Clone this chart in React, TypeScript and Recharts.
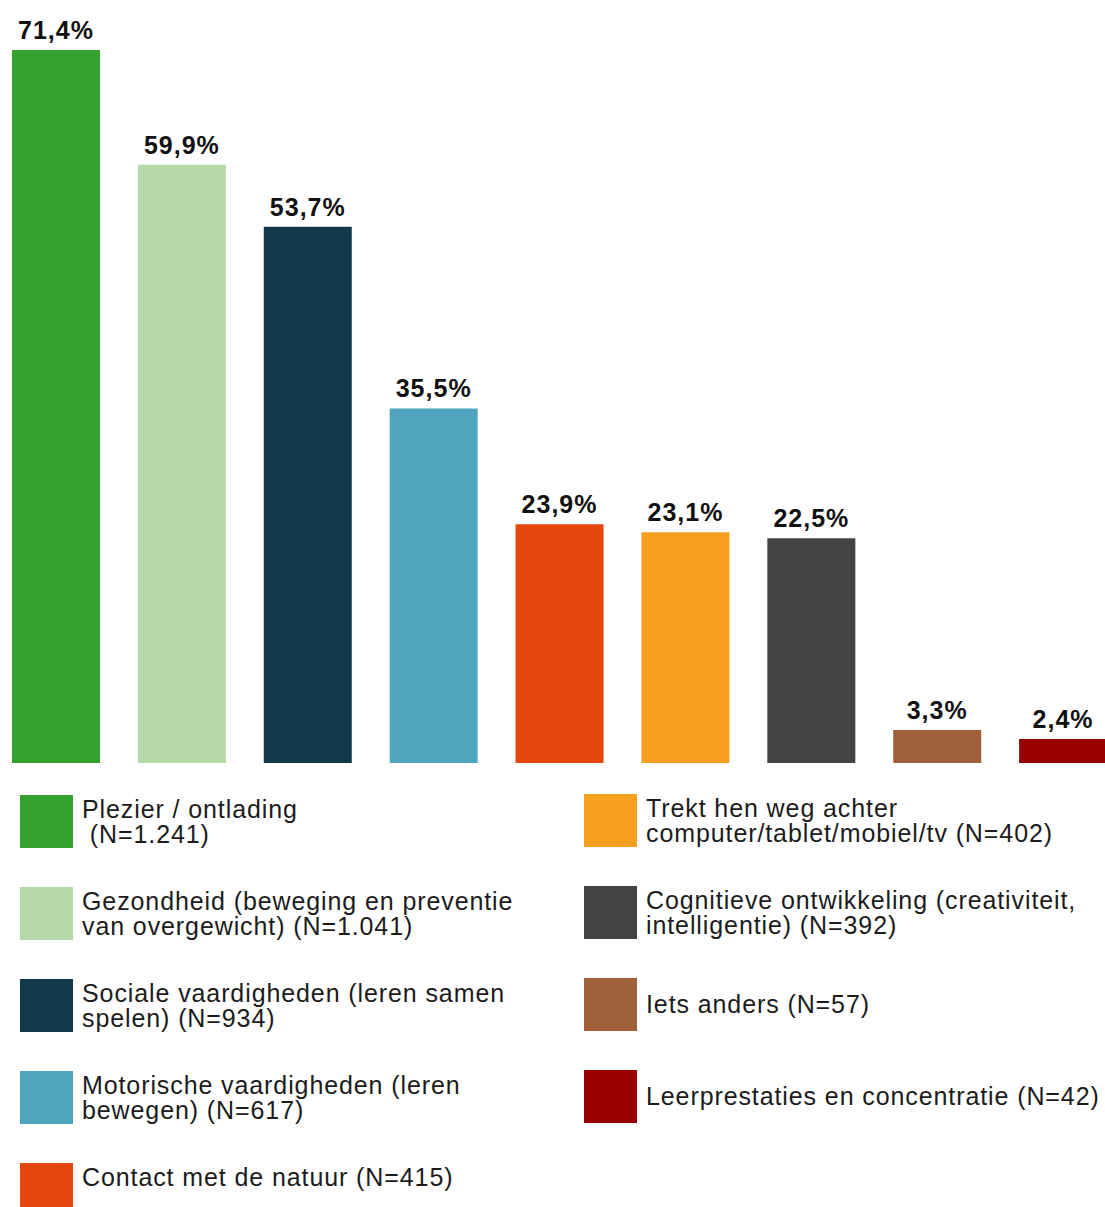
import React from 'react';
import { BarChart, Bar, XAxis, YAxis, Cell, LabelList } from 'recharts';

const categories = [
  'Plezier / ontlading',
  'Gezondheid',
  'Sociale vaardigheden',
  'Motorische vaardigheden',
  'Contact met de natuur',
  'Trekt hen weg achter schermen',
  'Cognitieve ontwikkeling',
  'Iets anders',
  'Leerprestaties en concentratie',
];
const percentages = [71.4, 59.9, 53.7, 35.5, 23.9, 23.1, 22.5, 3.3, 2.4];
const colors = ['#35a22f', '#b6d9aa', '#11394a', '#4fa5bd', '#e4470b', '#f7a020', '#434343', '#a0603a', '#9a0000'];

// legend text exactly as it is broken over lines in the picture
const legendLines = [
  ['Plezier / ontlading', ' (N=1.241)'],
  ['Gezondheid (beweging en preventie', 'van overgewicht) (N=1.041)'],
  ['Sociale vaardigheden (leren samen', 'spelen) (N=934)'],
  ['Motorische vaardigheden (leren', 'bewegen) (N=617)'],
  ['Contact met de natuur (N=415)', ''],
  ['Trekt hen weg achter', 'computer/tablet/mobiel/tv (N=402)'],
  ['Cognitieve ontwikkeling (creativiteit,', 'intelligentie) (N=392)'],
  ['Iets anders (N=57)'],
  ['Leerprestaties en concentratie (N=42)'],
];

const data = categories.map((name, i) => ({ name, value: percentages[i] }));

const FONT = '"Liberation Sans", Arial, sans-serif';

const LegendItem = ({ i }: { i: number }) => (
  <div style={{ display: 'flex', alignItems: 'center', height: 53, marginBottom: 39 }}>
    <div style={{ width: 53, height: 53, background: colors[i], flexShrink: 0 }} />
    <div style={{ marginLeft: 9, fontSize: 25, lineHeight: '25px', letterSpacing: 0.9, color: '#1c1c1c', whiteSpace: 'pre' }}>
      {legendLines[i].map((l, k) => (
        <div key={k} style={{ height: 25 }}>{l}</div>
      ))}
    </div>
  </div>
);

export default function App() {
  return (
    <div style={{ position: 'absolute', left: 0, top: 0, width: 1105, height: 1207, overflow: 'hidden', background: '#fff', fontFamily: FONT }}>
      <div style={{ position: 'absolute', left: -7, top: 0 }}>
        <BarChart width={1133} height={763} data={data} margin={{ top: 0, right: 0, bottom: 0, left: 0 }}>
          <XAxis dataKey="name" hide />
          <YAxis type="number" domain={[0, 76.4]} allowDataOverflow hide />
          <Bar dataKey="value" barSize={88} isAnimationActive={false}>
            {data.map((d, i) => (
              <Cell key={d.name} fill={colors[i]} />
            ))}
            <LabelList
              dataKey="value"
              position="top"
              offset={11}
              formatter={(v: any) => `${String(v).replace('.', ',')}%`}
              style={{ fontFamily: FONT, fontSize: 25, fontWeight: 700, fill: '#111', letterSpacing: 1 }}
            />
          </Bar>
        </BarChart>
      </div>
      <div style={{ position: 'absolute', left: 20, top: 795 }}>
        {[0, 1, 2, 3, 4].map((i) => <LegendItem key={i} i={i} />)}
      </div>
      <div style={{ position: 'absolute', left: 584, top: 794 }}>
        {[5, 6, 7, 8].map((i) => <LegendItem key={i} i={i} />)}
      </div>
    </div>
  );
}
